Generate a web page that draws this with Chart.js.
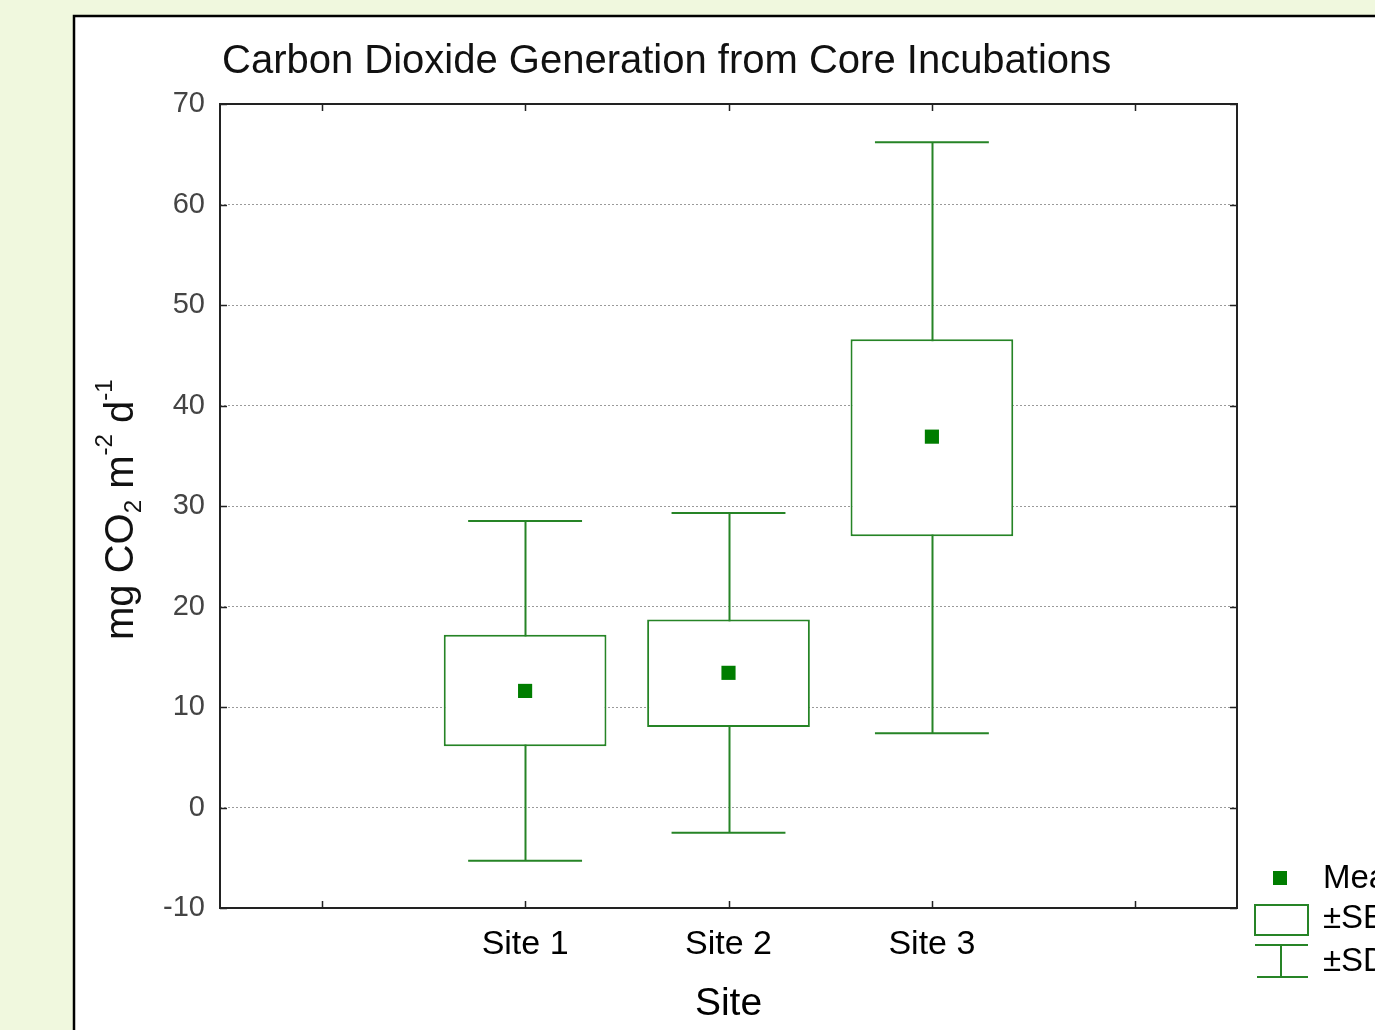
<!DOCTYPE html>
<html>
<head>
<meta charset="utf-8">
<script src="https://cdn.jsdelivr.net/npm/chart.js@4.4.1/dist/chart.umd.min.js"></script>
<style>
  html, body { margin: 0; padding: 0; background: rgb(240, 248, 222); overflow: hidden; }
  #wrap { position: relative; width: 1375px; height: 1030px; }
</style>
</head>
<body>
<div id="wrap"><canvas id="chart" width="1375" height="1030"></canvas></div>
<script>
// values (mg CO2 m-2 d-1)
const sites = ["Site 1", "Site 2", "Site 3"]
const sitePos = [1, 2, 3]
const means = [11.6, 13.4, 36.9]
const seLow = [6.1, 8.0, 27.0]
const seHigh = [17.2, 18.7, 46.6]
const sdLow = [-5.3, -2.5, 7.4]
const sdHigh = [28.5, 29.3, 66.2]

const yMin = -10, yMax = 70, yStep = 10
const xMin = -0.5, xMax = 4.5

const GREEN = "rgb(38, 132, 38)"
const MEAN_GREEN = "rgb(0, 125, 0)"
const FONT = "'Liberation Sans', Arial, sans-serif"

// background panel, whiskers, frame, inner ticks, title, y title, legend
const decor = {
  id: "decor",
  beforeDraw(chart) {
    const ctx = chart.ctx
    ctx.save()
    ctx.fillStyle = "rgb(240, 248, 222)"
    ctx.fillRect(0, 0, chart.width, chart.height)
    ctx.fillStyle = "#fff"
    ctx.fillRect(74, 16, chart.width, chart.height)
    ctx.strokeStyle = "#000"
    ctx.lineWidth = 2.5
    ctx.strokeRect(74, 16, chart.width + 10, chart.height + 10)
    ctx.restore()
  },
  beforeDatasetsDraw(chart) {
    const { ctx, scales: { x, y } } = chart
    const capHalf = 0.28
    ctx.save()
    ctx.strokeStyle = GREEN
    ctx.lineWidth = 2
    sitePos.forEach((p, i) => {
      const cx = Math.round(x.getPixelForValue(p)) + 0.5
      const yt = y.getPixelForValue(sdHigh[i])
      const yb = y.getPixelForValue(sdLow[i])
      ctx.beginPath()
      ctx.moveTo(cx, yt)
      ctx.lineTo(cx, yb)
      ctx.moveTo(x.getPixelForValue(p - capHalf), yt)
      ctx.lineTo(x.getPixelForValue(p + capHalf), yt)
      ctx.moveTo(x.getPixelForValue(p - capHalf), yb)
      ctx.lineTo(x.getPixelForValue(p + capHalf), yb)
      ctx.stroke()
    })
    ctx.restore()
  },
  afterDraw(chart) {
    const { ctx, chartArea: a, scales: { x, y } } = chart
    ctx.save()
    // frame
    ctx.strokeStyle = "#222"
    ctx.lineWidth = 2
    ctx.strokeRect(a.left, a.top, a.right - a.left, a.bottom - a.top)
    // inner ticks
    const tl = 7
    ctx.beginPath()
    for (let v = yMin; v <= yMax; v += yStep) {
      const py = Math.round(y.getPixelForValue(v)) + 0.5
      ctx.moveTo(a.left, py); ctx.lineTo(a.left + tl, py)
      ctx.moveTo(a.right, py); ctx.lineTo(a.right - tl, py)
    }
    for (let v = Math.ceil(xMin); v <= Math.floor(xMax); v++) {
      const px = Math.round(x.getPixelForValue(v)) + 0.5
      ctx.moveTo(px, a.bottom); ctx.lineTo(px, a.bottom - tl)
      ctx.moveTo(px, a.top); ctx.lineTo(px, a.top + tl)
    }
    ctx.lineWidth = 1.5
    ctx.stroke()

    // title
    ctx.fillStyle = "#111"
    ctx.font = `40px ${FONT}`
    ctx.textBaseline = "middle"
    ctx.textAlign = "left"
    ctx.fillText("Carbon Dioxide Generation from Core Incubations", a.left + 2, 62)

    // y axis title with sub/superscripts
    ctx.translate(133, 640)
    ctx.rotate(-Math.PI / 2)
    ctx.textBaseline = "alphabetic"
    const big = `40px ${FONT}`, small = `24px ${FONT}`
    const parts = [
      ["mg CO", big, 0], ["2", small, 8], [" m", big, 0],
      ["-2", small, -21], [" d", big, 0], ["-1", small, -21]
    ]
    let cx = 0
    parts.forEach(([t, f, dy]) => {
      ctx.font = f
      ctx.fillText(t, cx, dy)
      cx += ctx.measureText(t).width
    })
    ctx.restore()

    // legend (runs off the right edge like the reference)
    ctx.save()
    const lx = a.right + 18
    ctx.fillStyle = MEAN_GREEN
    ctx.fillRect(lx + 18, 871, 14, 14)
    ctx.strokeStyle = GREEN
    ctx.lineWidth = 2
    ctx.strokeRect(lx, 905, 53, 30)
    ctx.beginPath()
    ctx.moveTo(lx, 945); ctx.lineTo(lx + 53, 945)
    ctx.moveTo(lx + 26, 945); ctx.lineTo(lx + 26, 977)
    ctx.moveTo(lx + 2, 977); ctx.lineTo(lx + 53, 977)
    ctx.stroke()
    ctx.fillStyle = "#000"
    ctx.font = `33px ${FONT}`
    ctx.textBaseline = "middle"
    ctx.fillText("Mean", lx + 68, 879)
    ctx.fillText("\u00b1SE", lx + 68, 919)
    ctx.fillText("\u00b1SD", lx + 68, 962)
    ctx.restore()
  }
}

new Chart(document.getElementById("chart"), {
  type: "bar",
  data: {
    datasets: [
      {
        type: "scatter",
        label: "Mean",
        data: sitePos.map((p, i) => ({ x: p, y: means[i] })),
        pointStyle: "rect",
        pointRadius: 10,
        pointBorderWidth: 0,
        backgroundColor: MEAN_GREEN,
        order: 1,
      },
      {
        label: "\u00b1SE",
        data: sitePos.map((p, i) => ({ x: p, y: [seLow[i], seHigh[i]] })),
        backgroundColor: "#fff",
        borderColor: GREEN,
        borderWidth: 2,
        borderSkipped: false,
        barPercentage: 0.8,
        categoryPercentage: 1,
        order: 2,
      },
    ],
  },
  options: {
    responsive: false,
    animation: false,
    layout: { padding: { top: 104, right: 138, bottom: 0, left: 0 } },
    plugins: {
      legend: { display: false },
      tooltip: { enabled: false },
      title: { display: false },
    },
    scales: {
      x: {
        type: "linear",
        min: xMin,
        max: xMax,
        offset: false,
        afterFit: (s) => { s.height = 122 },
        afterBuildTicks: (s) => { s.ticks = [0, 1, 2, 3, 4].map(v => ({ value: v })) },
        grid: { display: false, drawTicks: false },
        border: { display: false },
        ticks: {
          padding: 16,
          color: "#000",
          font: { family: FONT, size: 34 },
          callback: (v) => sites[sitePos.indexOf(v)] ?? "",
          maxRotation: 0,
          autoSkip: false,
        },
        title: {
          display: true,
          text: "Site",
          color: "#000",
          font: { family: FONT, size: 39 },
          padding: { top: 0, bottom: 2 },
        },
      },
      y: {
        min: yMin,
        max: yMax,
        afterFit: (s) => { s.width = 220 },
        grid: { color: "#9a9a9a", lineWidth: 1, drawTicks: false },
        border: { display: false, dash: [2, 2] },
        ticks: {
          stepSize: yStep,
          padding: 15,
          color: "#444",
          font: { family: FONT, size: 29 },
        },
      },
    },
  },
  plugins: [decor],
})
</script>
</body>
</html>
